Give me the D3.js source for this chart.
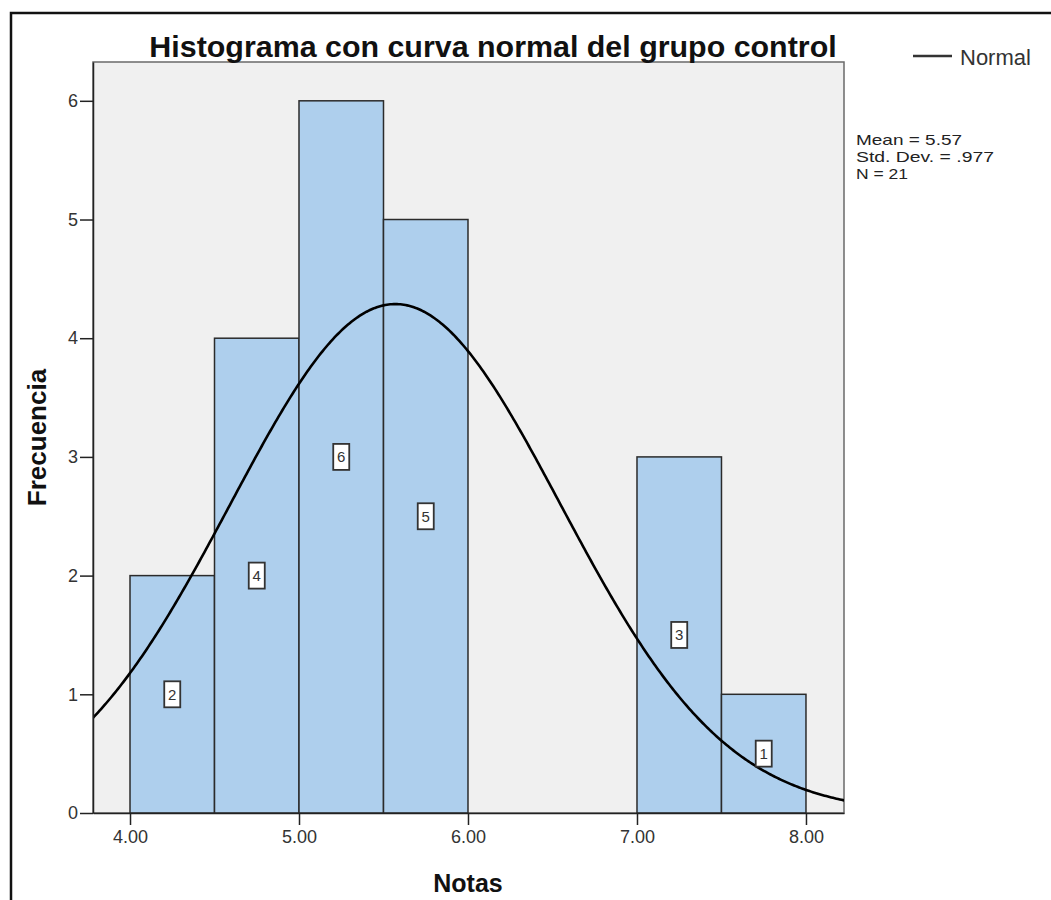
<!DOCTYPE html>
<html>
<head>
<meta charset="utf-8">
<script src="https://cdn.jsdelivr.net/npm/d3@7"></script>
<style>
  html, body { margin: 0; padding: 0; background: #ffffff; }
  svg { display: block; font-family: "Liberation Sans", Arial, sans-serif; }
</style>
</head>
<body>
<svg id="chart" width="1051" height="900"></svg>
<script>
// Histogram bins of "Notas" (lower edge, upper edge, count)
const binStarts = [4.0, 4.5, 5.0, 5.5, 6.0, 6.5, 7.0, 7.5];
const binEnds   = [4.5, 5.0, 5.5, 6.0, 6.5, 7.0, 7.5, 8.0];
const counts    = [2, 4, 6, 5, 0, 0, 3, 1];

// Summary statistics shown beside the plot
const meanValue = 5.57;
const stdDev = 0.977;
const nTotal = 21;
const binWidth = 0.5;

const xTicks = [4, 5, 6, 7, 8];
const yTicks = [0, 1, 2, 3, 4, 5, 6];

const titleText = "Histograma con curva normal del grupo control";
const xLabel = "Notas";
const yLabel = "Frecuencia";
const legendLabel = "Normal";
const statLines = ["Mean = 5.57", "Std. Dev. = .977", "N = 21"];
const statWidths = [106, 138, 52];

const svg = d3.select("#chart");

// frame of the plot region
const plot = { left: 93, right: 844, top: 62, bottom: 813 };

const x = d3.scaleLinear().domain([3.781, 8.225]).range([plot.left, plot.right]);
const y = d3.scaleLinear().domain([0, 6.327]).range([plot.bottom, plot.top]);

// outer border (left and top edges)
svg.append("path")
  .attr("d", `M11,900 L11,13 L1051,13`)
  .attr("fill", "none").attr("stroke", "#111").attr("stroke-width", 2.5);

// plot background
svg.append("rect")
  .attr("x", plot.left).attr("y", plot.top)
  .attr("width", plot.right - plot.left).attr("height", plot.bottom - plot.top)
  .attr("fill", "#f0f0f0").attr("stroke", "#6a6a6a").attr("stroke-width", 1.5);

svg.append("clipPath").attr("id", "plotClip")
  .append("rect")
  .attr("x", plot.left).attr("y", plot.top)
  .attr("width", plot.right - plot.left).attr("height", plot.bottom - plot.top);

// bars
const bins = binStarts.map((s, i) => ({ x0: s, x1: binEnds[i], n: counts[i] }));
svg.append("g").selectAll("rect")
  .data(bins.filter(d => d.n > 0))
  .join("rect")
  .attr("x", d => x(d.x0))
  .attr("y", d => y(d.n))
  .attr("width", d => x(d.x1) - x(d.x0))
  .attr("height", d => y(0) - y(d.n))
  .attr("fill", "#aecfed")
  .attr("stroke", "#2b2b2b")
  .attr("stroke-width", 1.5);

// fitted normal curve scaled to counts
const curvePts = d3.range(3.70, 8.30, 0.01).map(v => [
  v,
  nTotal * binWidth * Math.exp(-0.5 * Math.pow((v - meanValue) / stdDev, 2)) / (stdDev * Math.sqrt(2 * Math.PI))
]);
svg.append("path")
  .datum(curvePts)
  .attr("clip-path", "url(#plotClip)")
  .attr("fill", "none")
  .attr("stroke", "#000")
  .attr("stroke-width", 2.6)
  .attr("d", d3.line().x(d => x(d[0])).y(d => y(d[1])));

// count labels in boxes at half bar height
const lbl = svg.append("g").selectAll("g")
  .data(bins.filter(d => d.n > 0))
  .join("g")
  .attr("transform", d => `translate(${x((d.x0 + d.x1) / 2)},${y(d.n / 2)})`);
lbl.append("rect")
  .attr("x", -8).attr("y", -13).attr("width", 16).attr("height", 26)
  .attr("fill", "#ffffff").attr("stroke", "#333").attr("stroke-width", 1.8);
lbl.append("text")
  .attr("text-anchor", "middle").attr("dy", "0.36em")
  .attr("font-size", 15).attr("fill", "#333")
  .text(d => d.n);

// axes
const yAxis = d3.axisLeft(y).tickValues(yTicks).tickSize(13).tickSizeOuter(0).tickPadding(2).tickFormat(d3.format("d"));
const gy = svg.append("g").attr("transform", `translate(${plot.left},0)`).call(yAxis);
gy.attr("font-size", 18).attr("font-family", "Liberation Sans, Arial, sans-serif");
gy.select(".domain").attr("stroke", "#222").attr("stroke-width", 1.5);
gy.selectAll(".tick line").attr("stroke", "#222").attr("stroke-width", 1.5);
gy.selectAll(".tick text").attr("fill", "#333");

const xAxis = d3.axisBottom(x).tickValues(xTicks).tickSize(12).tickSizeOuter(0).tickPadding(5).tickFormat(d3.format(".2f"));
const gx = svg.append("g").attr("transform", `translate(0,${plot.bottom})`).call(xAxis);
gx.attr("font-size", 18).attr("font-family", "Liberation Sans, Arial, sans-serif");
gx.select(".domain").attr("stroke", "#222").attr("stroke-width", 1.5);
gx.selectAll(".tick line").attr("stroke", "#222").attr("stroke-width", 1.5);
gx.selectAll(".tick text").attr("fill", "#333");

// title
svg.append("text")
  .attr("x", 493).attr("y", 57)
  .attr("text-anchor", "middle")
  .attr("font-size", 30.4).attr("font-weight", "bold").attr("fill", "#111")
  .text(titleText);

// axis titles
svg.append("text")
  .attr("x", 468).attr("y", 892)
  .attr("text-anchor", "middle")
  .attr("font-size", 25).attr("font-weight", "bold").attr("fill", "#111")
  .text(xLabel);
svg.append("text")
  .attr("transform", `translate(46,${(plot.top + plot.bottom) / 2}) rotate(-90)`)
  .attr("text-anchor", "middle")
  .attr("font-size", 26).attr("font-weight", "bold").attr("fill", "#111")
  .text(yLabel);

// legend
svg.append("line")
  .attr("x1", 913).attr("x2", 952).attr("y1", 56).attr("y2", 56)
  .attr("stroke", "#333").attr("stroke-width", 2.5);
svg.append("text")
  .attr("x", 960).attr("y", 65)
  .attr("font-size", 22).attr("fill", "#333")
  .text(legendLabel);

// statistics
svg.append("g").selectAll("text")
  .data(statLines)
  .join("text")
  .attr("x", 856).attr("y", (d, i) => 145 + i * 17)
  .attr("font-size", 15).attr("fill", "#222")
  .attr("textLength", (d, i) => statWidths[i])
  .attr("lengthAdjust", "spacingAndGlyphs")
  .text(d => d);
</script>
</body>
</html>
